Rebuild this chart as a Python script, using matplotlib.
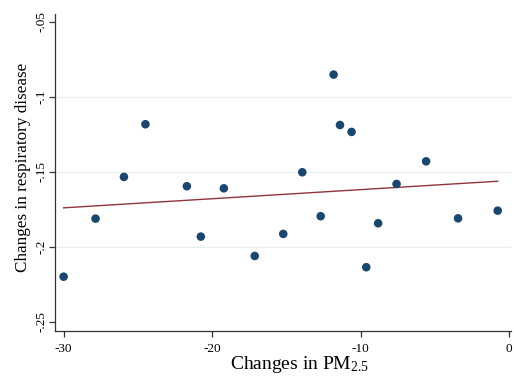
import matplotlib
matplotlib.use("Agg")
import matplotlib.pyplot as plt
import numpy as np

pm25_change = [-30.0, -27.85, -25.94, -24.49, -21.70, -20.76, -19.21, -17.13,
               -15.21, -13.93, -12.69, -11.82, -11.39, -10.61, -9.62, -8.82,
               -7.58, -5.59, -3.44, -0.77]
resp_change = [-0.2198, -0.1811, -0.1533, -0.1182, -0.1595, -0.1931, -0.1609, -0.2060,
               -0.1913, -0.1502, -0.1795, -0.0851, -0.1187, -0.1233, -0.2135, -0.1842,
               -0.1580, -0.1429, -0.1809, -0.1758]

x_ticks = [-30, -20, -10, 0]
y_ticks = [-0.25, -0.2, -0.15, -0.1, -0.05]
y_tick_labels = ["-.25", "-.2", "-.15", "-.1", "-.05"]

plt.rcParams['font.family'] = ['Liberation Serif', 'DejaVu Serif']
plt.rcParams['mathtext.fontset'] = 'custom'
plt.rcParams['mathtext.rm'] = 'Liberation Serif'
plt.rcParams['mathtext.it'] = 'Liberation Serif:italic'

fig = plt.figure(figsize=(5.14, 3.76), dpi=100)
ax = fig.add_axes([0.107, 0.1205, 0.887, 0.8423])

for yv in y_ticks[1:-1]:
    ax.axhline(yv, color='#e6eef0', lw=0.9, zorder=0)

x = np.array(pm25_change)
y = np.array(resp_change)
b, a = np.polyfit(x, y, 1)
xf = np.array([x.min(), x.max()])
ax.plot(xf, a + b * xf, color='#90353b', lw=1.0, zorder=2)

ax.scatter(x, y, s=38, color='#1a476f', edgecolors='none', zorder=3)

ax.set_xlim(-30.58, 0.12)
ax.set_ylim(-0.2558, -0.0447)
ax.set_xticks(x_ticks)
ax.set_xticklabels([str(t) for t in x_ticks])
ax.set_yticks(y_ticks)
ax.set_yticklabels(y_tick_labels, rotation=90, va='center')

for s in ['top', 'right']:
    ax.spines[s].set_visible(False)
for s in ['left', 'bottom']:
    ax.spines[s].set_color('#333333')
    ax.spines[s].set_linewidth(0.9)

ax.tick_params(axis='both', direction='out', length=4.5, width=0.9, color='#333333',
               labelsize=9.5)
ax.tick_params(axis='x', pad=4.5)
ax.tick_params(axis='y', pad=1)
ax.set_xlabel(r'Changes in PM$_{\mathregular{2.5}}$', fontsize=14)
ax.xaxis.label.set_va('baseline')
ax.set_ylabel('Changes in respiratory disease', fontsize=12.3)
ax.xaxis.set_label_coords(0.537, -0.121)
ax.yaxis.set_label_coords(-0.052, 0.515)

fig.savefig('out.png', dpi=100)
